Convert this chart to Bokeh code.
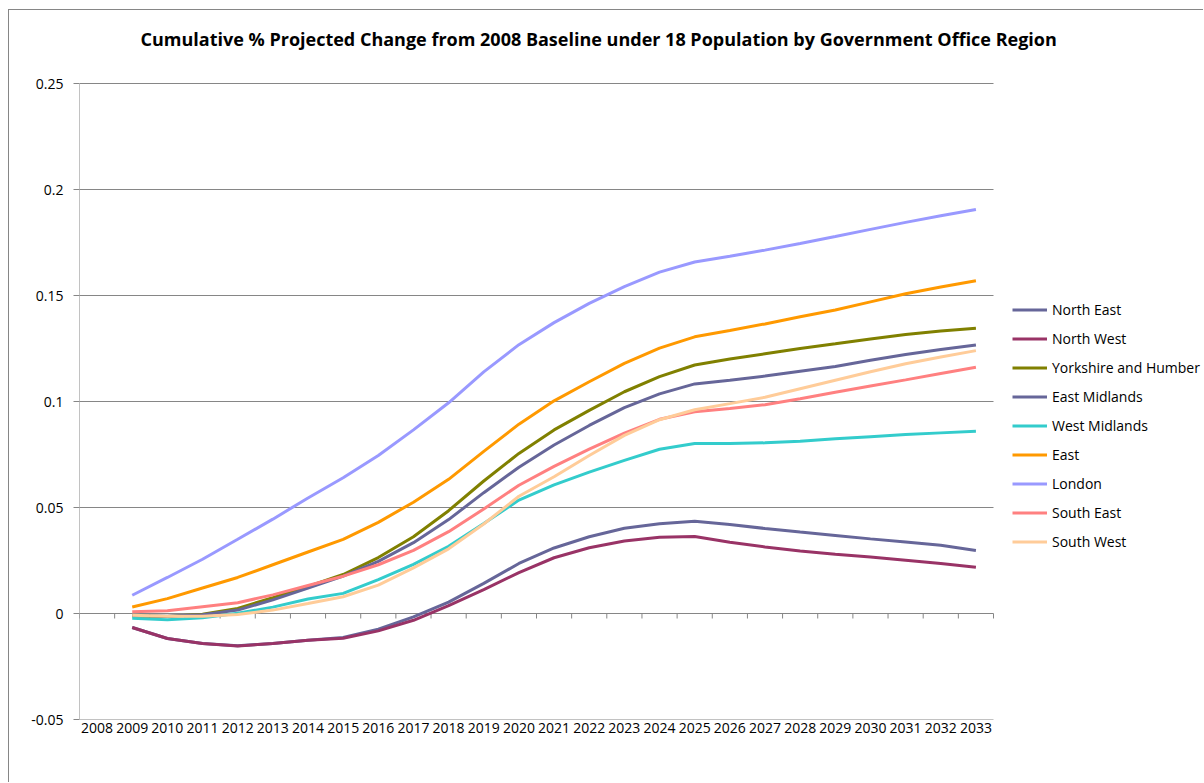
from bokeh.plotting import figure
from bokeh.models import (Range1d, FixedTicker, Legend, LegendItem, Label, LinearAxis)
from bokeh.embed import file_html
from bokeh.resources import INLINE

# ---------------- data ----------------
categories = list(range(2008, 2034))          # x-axis categories
data_years = list(range(2009, 2034))          # years with data

north_east = [-0.0066, -0.0118, -0.0142, -0.0152, -0.0142, -0.0126, -0.0113, -0.0074, -0.0016, 0.0054,
              0.0142, 0.0236, 0.0309, 0.0362, 0.0402, 0.0423, 0.0435, 0.0420, 0.0401, 0.0384,
              0.0368, 0.0352, 0.0337, 0.0322, 0.0297]
north_west = [-0.0066, -0.0118, -0.0142, -0.0153, -0.0142, -0.0126, -0.0117, -0.0082, -0.0032, 0.0037,
              0.0113, 0.0193, 0.0263, 0.0310, 0.0342, 0.0360, 0.0363, 0.0336, 0.0314, 0.0295,
              0.0280, 0.0266, 0.0251, 0.0236, 0.0218]
yorkshire = [-0.0012, -0.0014, -0.0003, 0.0024, 0.0075, 0.0128, 0.0184, 0.0264, 0.0362, 0.0485,
             0.0625, 0.0755, 0.0866, 0.0958, 0.1046, 0.1117, 0.1172, 0.1200, 0.1225, 0.1250,
             0.1272, 0.1295, 0.1316, 0.1332, 0.1346]
east_midlands = [-0.0010, -0.0013, -0.0006, 0.0016, 0.0064, 0.0120, 0.0176, 0.0246, 0.0334, 0.0443,
                 0.0570, 0.0690, 0.0795, 0.0887, 0.0971, 0.1036, 0.1083, 0.1100, 0.1120, 0.1143,
                 0.1165, 0.1195, 0.1222, 0.1245, 0.1266]
west_midlands = [-0.0023, -0.0030, -0.0020, 0.0001, 0.0030, 0.0068, 0.0095, 0.0160, 0.0232, 0.0317,
                 0.0425, 0.0535, 0.0607, 0.0667, 0.0722, 0.0775, 0.0802, 0.0802, 0.0805, 0.0813,
                 0.0824, 0.0834, 0.0844, 0.0852, 0.0860]
east = [0.0031, 0.0070, 0.0120, 0.0170, 0.0230, 0.0290, 0.0350, 0.0430, 0.0525, 0.0633,
        0.0765, 0.0893, 0.1003, 0.1093, 0.1180, 0.1252, 0.1305, 0.1335, 0.1366, 0.1400,
        0.1432, 0.1470, 0.1508, 0.1540, 0.1570]
london = [0.0086, 0.0170, 0.0256, 0.0350, 0.0445, 0.0545, 0.0640, 0.0745, 0.0866, 0.0994,
          0.1140, 0.1268, 0.1372, 0.1463, 0.1542, 0.1610, 0.1658, 0.1685, 0.1714, 0.1745,
          0.1778, 0.1812, 0.1845, 0.1876, 0.1906]
south_east = [0.0008, 0.0013, 0.0032, 0.0051, 0.0088, 0.0132, 0.0176, 0.0230, 0.0298, 0.0386,
              0.0493, 0.0605, 0.0694, 0.0775, 0.0851, 0.0916, 0.0952, 0.0967, 0.0985, 0.1013,
              0.1044, 0.1073, 0.1102, 0.1132, 0.1162]
south_west = [-0.0008, -0.0013, -0.0013, -0.0005, 0.0016, 0.0047, 0.0079, 0.0134, 0.0215, 0.0305,
              0.0422, 0.0553, 0.0645, 0.0745, 0.0840, 0.0914, 0.0961, 0.0990, 0.1020, 0.1060,
              0.1100, 0.1140, 0.1178, 0.1210, 0.1240]

series_names = ["North East", "North West", "Yorkshire and Humber", "East Midlands",
                "West Midlands", "East", "London", "South East", "South West"]
series_values = [north_east, north_west, yorkshire, east_midlands, west_midlands,
                 east, london, south_east, south_west]
series_colors = ["#666699", "#993366", "#808000", "#666699", "#33CCCC",
                 "#FF9900", "#9999FF", "#FF8080", "#FFCC99"]

y_ticks = [-0.05, 0.0, 0.05, 0.1, 0.15, 0.2, 0.25]
y_tick_labels = ["-0.05", "0", "0.05", "0.1", "0.15", "0.2", "0.25"]

title_text = "Cumulative %  Projected Change from 2008 Baseline under 18 Population by Government Office Region"

FONT = "Open Sans"
GRID = "#868686"

# ---------------- layout constants (pixels) ----------------
PLOT_W = 914        # width of the category area
RIGHT_PAD = 211     # space right of the category area (legend zone)
PLOT_H = 636        # height of the value area
TOP_PAD = 73        # space above the value area (title zone)
TITLE_LEFT = 61     # title start, from the left edge of the value area
TITLE_UP = 45       # title centre height above the value area

x_start = categories[0] - 0.5
x_cat_end = categories[-1] + 0.5
x_per_px = (x_cat_end - x_start) / PLOT_W
x_end = x_cat_end + RIGHT_PAD * x_per_px

y_min, y_max = y_ticks[0], y_ticks[-1]
y_per_px = (y_max - y_min) / PLOT_H
y_top = y_max + TOP_PAD * y_per_px

p = figure(width=1195, height=773, output_backend="svg", toolbar_location=None,
           x_range=Range1d(x_start, x_end),
           y_range=Range1d(y_min, y_top),
           min_border_left=70, min_border_right=0, min_border_top=0, min_border_bottom=64,
           x_axis_type=None, y_axis_type=None)
p.margin = (9, 0, 0, 8)
p.styles = {"border-left": "1px solid #868686", "border-top": "1px solid #868686"}
p.outline_line_color = None
p.background_fill_color = "white"
p.border_fill_color = "white"

# y axis (ticks + labels; its line is drawn below as a segment)
yaxis = LinearAxis(ticker=FixedTicker(ticks=y_ticks),
                   major_label_overrides={t: l for t, l in zip(y_ticks, y_tick_labels)})
yaxis.axis_line_color = None
yaxis.major_tick_line_color = GRID
yaxis.major_tick_out = 6
yaxis.major_tick_in = 0
yaxis.minor_tick_line_color = None
yaxis.major_label_text_font = FONT
yaxis.major_label_text_font_size = "14px"
yaxis.major_label_text_color = "black"
yaxis.major_label_standoff = 10
p.add_layout(yaxis, "left")

# x axis (labels only, at bottom)
xaxis = LinearAxis(ticker=FixedTicker(ticks=categories),
                   major_label_overrides={c: str(c) for c in categories})
xaxis.axis_line_color = None
xaxis.major_tick_line_color = None
xaxis.minor_tick_line_color = None
xaxis.major_tick_out = 0
xaxis.major_tick_in = 0
xaxis.major_label_standoff = 3
xaxis.major_label_text_font = FONT
xaxis.major_label_text_font_size = "14px"
xaxis.major_label_text_color = "black"
p.add_layout(xaxis, "below")

# horizontal gridlines across the category area only
p.segment(x0=[x_start] * len(y_ticks), y0=y_ticks, x1=[x_cat_end] * len(y_ticks), y1=y_ticks,
          line_color=GRID, line_width=1)
# value-axis line
p.segment(x0=[x_start], y0=[y_min], x1=[x_start], y1=[y_max], line_color=GRID, line_width=1)

# tick marks on the zero line at category boundaries
bounds = [c - 0.5 for c in categories] + [categories[-1] + 0.5]
tick_len = 5 * y_per_px
p.segment(x0=bounds, y0=[0] * len(bounds), x1=bounds, y1=[-tick_len] * len(bounds),
          line_color=GRID, line_width=1)

# series lines
items = []
for name, vals, col in zip(series_names, series_values, series_colors):
    r = p.line(data_years, vals, line_color=col, line_width=3)
    items.append(LegendItem(label=name, renderers=[r]))

legend = Legend(items=items, location=(933, 163))
legend.label_text_font = FONT
legend.label_text_font_size = "14px"
legend.label_text_color = "black"
legend.glyph_width = 35
legend.glyph_height = 29
legend.label_height = 29
legend.label_standoff = 5
legend.spacing = 0
legend.padding = 0
legend.margin = 0
legend.border_line_color = None
legend.background_fill_alpha = 0
p.add_layout(legend)

title = Label(x=x_start + TITLE_LEFT * x_per_px, y=y_max + TITLE_UP * y_per_px,
              text=title_text, text_align="left", text_baseline="middle",
              text_font=FONT, text_font_size="18px", text_font_style="bold",
              text_color="black")
p.add_layout(title)

open("out.html", "w").write(file_html(p, INLINE))
